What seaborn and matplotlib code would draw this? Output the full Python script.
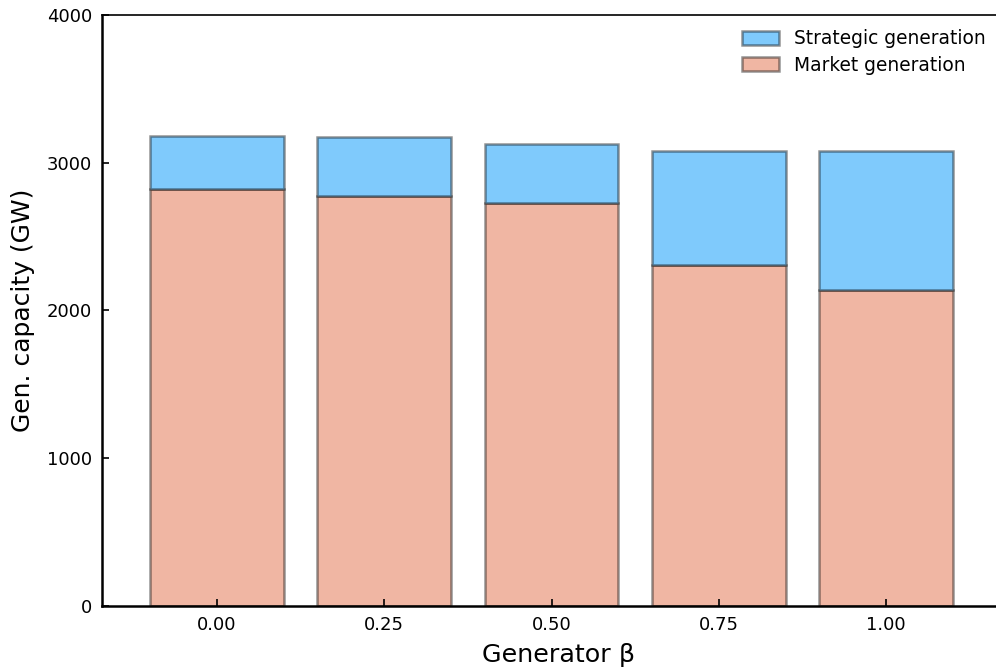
import matplotlib
matplotlib.use("Agg")
import matplotlib.pyplot as plt
import seaborn as sns
import pandas as pd

betas = ["0.00", "0.25", "0.50", "0.75", "1.00"]
market = [2820, 2775, 2728, 2308, 2139]
strategic = [361, 399, 399, 772, 941]

plt.rcdefaults()
plt.rcParams['font.family'] = ['DejaVu Sans']
plt.rcParams['xtick.bottom'] = True
plt.rcParams['ytick.left'] = True

fig = plt.figure(figsize=(9.96, 6.69), dpi=100)
ax = fig.add_axes([0.1024, 0.0942, 0.8976 + 0.02, 0.8834])

df = pd.DataFrame({"beta": betas, "market": market, "strategic": strategic})
edge = (0, 0, 0, 0.42)

sns.barplot(data=df, x="beta", y="market", color="#f0b6a3", saturation=1,
            edgecolor=edge, linewidth=1.8, width=0.8, ax=ax, label="Market generation")
pos = list(range(len(betas)))
ax.bar(pos, df["strategic"], bottom=df["market"], width=0.8, color="#7fcafc",
       edgecolor=edge, linewidth=1.8, label="Strategic generation")

ax.set_xlim(-0.687, 4.657 + 0.02 / 0.8976 * 5.344)
ax.set_ylim(0, 4000)
ax.set_yticks([0, 1000, 2000, 3000, 4000])
ax.set_xlabel("Generator β", fontsize=18.3, color="black", labelpad=7)
ax.set_ylabel("Gen. capacity (GW)", fontsize=18, color="black", labelpad=9)
ax.tick_params(direction="in", length=5, width=1.2, labelsize=13, pad=7, colors="black")

for s in ["left", "bottom"]:
    ax.spines[s].set_linewidth(1.8)
    ax.spines[s].set_color("black")
ax.spines["top"].set_linewidth(1.2)
ax.spines["top"].set_color("black")
ax.spines["right"].set_visible(False)

h, l = ax.get_legend_handles_labels()
order = [l.index("Strategic generation"), l.index("Market generation")]
ax.legend([h[i] for i in order], [l[i] for i in order], loc="upper right",
          bbox_to_anchor=(0.985, 1.004), frameon=False, fontsize=13.4,
          handlelength=2.0, handleheight=0.8, labelspacing=0.4)

fig.savefig("out.png", dpi=100)
